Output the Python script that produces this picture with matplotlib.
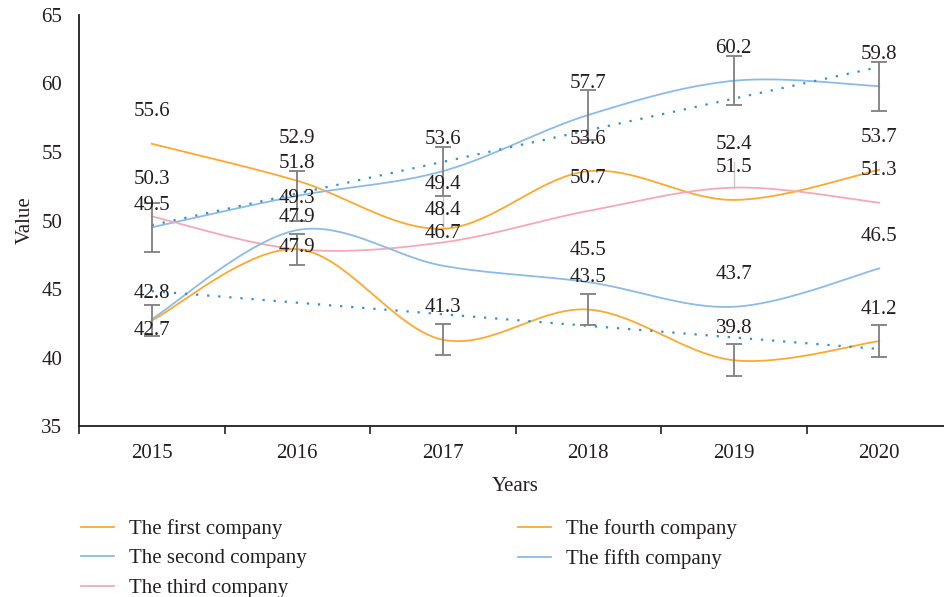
import numpy as np
import matplotlib
matplotlib.use("Agg")
import matplotlib.pyplot as plt
from matplotlib.lines import Line2D

plt.rcParams['font.family'] = ['Liberation Serif', 'DejaVu Serif']

years = ["2015", "2016", "2017", "2018", "2019", "2020"]
first = [55.6, 52.9, 49.4, 53.6, 51.5, 53.7]
second = [49.5, 51.8, 53.6, 57.7, 60.2, 59.8]
third = [50.3, 47.9, 48.4, 50.7, 52.4, 51.3]
fourth = [42.7, 47.9, 41.3, 43.5, 39.8, 41.2]
fifth = [42.8, 49.3, 46.7, 45.5, 43.7, 46.5]
names = ["The first company", "The second company", "The third company",
         "The fourth company", "The fifth company"]
err_second = 1.8
err_fourth = 1.15

ORANGE = "#FFA82E"
BLUE = "#8CBBE9"
PINK = "#F6A9B5"
TREND = "#2F8FD8"
GREY = "#7F7F7F"
TXT = "#231F20"
FS = 15

series = [first, second, third, fourth, fifth]
colors = [ORANGE, BLUE, PINK, ORANGE, BLUE]

# label offsets (pixels above point); default 32
label_off = {(0, 1): 42, (0, 2): 44, (1, 0): 22, (4, 0): 26,
             (3, 0): -10, (3, 1): 2, (2, 4): 43, (2, 0): 37}

def smooth(x, y, n=40):
    x = np.asarray(x, float); y = np.asarray(y, float)
    px, py = [], []
    m = len(x)
    for i in range(m - 1):
        x0, y0 = x[max(i - 1, 0)], y[max(i - 1, 0)]
        x1, y1 = x[i], y[i]
        x2, y2 = x[i + 1], y[i + 1]
        x3, y3 = x[min(i + 2, m - 1)], y[min(i + 2, m - 1)]
        c1x, c1y = x1 + (x2 - x0) / 6, y1 + (y2 - y0) / 6
        c2x, c2y = x2 - (x3 - x1) / 6, y2 - (y3 - y1) / 6
        t = np.linspace(0, 1, n)
        bx = (1-t)**3*x1 + 3*(1-t)**2*t*c1x + 3*(1-t)*t**2*c2x + t**3*x2
        by = (1-t)**3*y1 + 3*(1-t)**2*t*c1y + 3*(1-t)*t**2*c2y + t**3*y2
        px.extend(bx); py.extend(by)
    return np.array(px), np.array(py)

fig = plt.figure(figsize=(9.44, 5.97), dpi=100)
ax = fig.add_axes([79/944, 1 - 426/597, 873/944, (426 - 15)/597])
x = np.arange(len(years))

handles = []
for k, (s, c) in enumerate(zip(series, colors)):
    sx, sy = smooth(x, s)
    ax.plot(sx, sy, color=c, lw=1.3, zorder=3)
    handles.append(Line2D([], [], color=c, lw=1.3))

# trend lines
for s in (second, fourth):
    p = np.polyfit(x, s, 1)
    ax.plot(x, np.polyval(p, x), color=TREND, lw=1.6, ls=(0, (1, 4)), zorder=4)

# error bars
ax.errorbar(x, second, yerr=err_second, fmt='none', ecolor=GREY, elinewidth=1.3,
            capsize=6, capthick=1.3, zorder=5)
ax.errorbar(x, fourth, yerr=err_fourth, fmt='none', ecolor=GREY, elinewidth=1.3,
            capsize=6, capthick=1.3, zorder=5)
# faint partial bars
ax.plot([2, 2], [first[2], first[2] + 2.3], color="#C8C8C8", lw=1, zorder=2)
ax.plot([4, 4], [third[4], third[4] + 1.9], color="#C8C8C8", lw=1, zorder=2)

# data labels
for k, s in enumerate(series):
    for i, v in enumerate(s):
        off = label_off.get((k, i), 32)
        ax.annotate(f"{v:.1f}", (i, v), xytext=(0, off * 0.72), textcoords='offset points',
                    ha='center', va='center', fontsize=FS, color=TXT, zorder=6)

ax.set_xlim(-0.5, 5.5)
ax.set_ylim(35, 65)
ax.set_yticks(range(35, 66, 5))
ax.set_xticks(np.arange(-0.5, 5.6, 1))
ax.set_xticklabels([])
ax.set_xticks(x, minor=True)
ax.set_xticklabels(years, minor=True)
ax.tick_params(axis='x', which='major', length=6, width=1.2, direction='out', color=TXT)
ax.tick_params(axis='x', which='minor', length=0, pad=13, labelsize=FS, labelcolor=TXT)
ax.tick_params(axis='y', length=0, pad=12, labelsize=FS, labelcolor=TXT)
for sp in ('top', 'right'):
    ax.spines[sp].set_visible(False)
for sp in ('left', 'bottom'):
    ax.spines[sp].set_linewidth(1.3)
    ax.spines[sp].set_color(TXT)

ax.set_xlabel("Years", fontsize=FS, color=TXT, labelpad=10)
ax.set_ylabel("Value", fontsize=FS, color=TXT, labelpad=5)

leg_kw = dict(frameon=False, fontsize=FS, handlelength=1.6, handletextpad=0.7,
              labelspacing=0.48, borderpad=0, borderaxespad=0, loc='upper left',
              labelcolor=TXT)
l1 = fig.legend(handles[:3], names[:3], bbox_to_anchor=(81/944, 1 - 519/597), **leg_kw)
l2 = fig.legend(handles[3:], names[3:], bbox_to_anchor=(518/944, 1 - 519/597), **leg_kw)

fig.savefig("out.png", dpi=100)
